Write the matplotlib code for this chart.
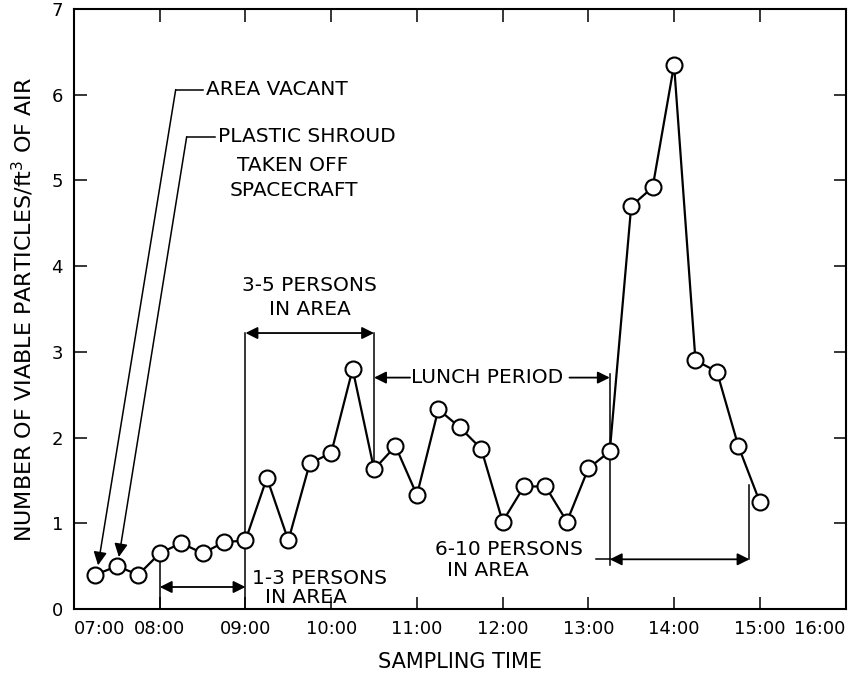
import numpy as np
import matplotlib
matplotlib.use("Agg")
import matplotlib.pyplot as plt

# sampling times (hours) and viable particle counts
hours = [7.25, 7.5, 7.75, 8.0, 8.25, 8.5, 8.75, 9.0, 9.25, 9.5, 9.75, 10.0,
         10.25, 10.5, 10.75, 11.0, 11.25, 11.5, 11.75, 12.0, 12.25, 12.5,
         12.75, 13.0, 13.25, 13.5, 13.75, 14.0, 14.25, 14.5, 14.75, 15.0]
particles = [0.40, 0.50, 0.40, 0.65, 0.77, 0.65, 0.78, 0.80, 1.53, 0.80, 1.70,
             1.82, 2.80, 1.63, 1.90, 1.33, 2.33, 2.12, 1.87, 1.02, 1.43, 1.43,
             1.02, 1.64, 1.84, 4.70, 4.92, 6.35, 2.90, 2.77, 1.90, 1.25]

tick_hours = list(range(7, 17))
tick_labels = ["%02d:00" % h for h in tick_hours]
y_ticks = list(range(0, 8))

plt.rcParams['font.family'] = 'DejaVu Sans'

fig = plt.figure(figsize=(8.61, 6.74), dpi=100)
ax = fig.add_axes([0.086, 0.0964, 0.896, 0.8902])

black = 'black'
fs = 14.5

# --- period brackets and leaders (drawn under the markers) ---
def vline(x, y0, y1):
    ax.plot([x, x], [y0, y1], color=black, lw=1.1, zorder=1)

def dbl_arrow(x0, x1, y):
    ax.annotate('', xy=(x1, y), xytext=(x0, y),
                arrowprops=dict(arrowstyle='<|-|>', color=black, lw=1.3,
                                mutation_scale=18, shrinkA=0, shrinkB=0))

def one_arrow(x0, x1, y):
    ax.annotate('', xy=(x1, y), xytext=(x0, y),
                arrowprops=dict(arrowstyle='-|>', color=black, lw=1.3,
                                mutation_scale=18, shrinkA=0, shrinkB=0))

# 1-3 persons
vline(8.0, 0.0, 0.56)
vline(9.0, 0.0, 3.22)
dbl_arrow(8.0, 9.0, 0.257)
ax.text(9.08, 0.36, "1-3 PERSONS", fontsize=fs, va='center', ha='left')
ax.text(9.23, 0.14, "IN AREA", fontsize=fs, va='center', ha='left')

# 3-5 persons
vline(10.5, 1.72, 3.22)
dbl_arrow(9.0, 10.5, 3.22)
ax.text(9.75, 3.78, "3-5 PERSONS", fontsize=fs, va='center', ha='center')
ax.text(9.75, 3.49, "IN AREA", fontsize=fs, va='center', ha='center')

# lunch period
one_arrow(10.92, 10.5, 2.70)
one_arrow(12.78, 13.25, 2.70)
ax.text(11.82, 2.70, "LUNCH PERIOD", fontsize=fs, va='center', ha='center')
vline(13.25, 0.51, 2.74)

# 6-10 persons
vline(14.88, 0.58, 1.45)
ax.plot([13.09, 13.25], [0.58, 0.58], color=black, lw=1.1, zorder=1)
dbl_arrow(13.25, 14.88, 0.58)
ax.text(11.21, 0.69, "6-10 PERSONS", fontsize=fs, va='center', ha='left')
ax.text(11.35, 0.455, "IN AREA", fontsize=fs, va='center', ha='left')

# area vacant / plastic shroud leaders
ax.plot([8.186, 8.50], [6.06, 6.06], color=black, lw=1.1)
ax.annotate('', xy=(7.28, 0.51), xytext=(8.186, 6.06),
            arrowprops=dict(arrowstyle='-|>', color=black, lw=1.1,
                            mutation_scale=20, shrinkA=0, shrinkB=0))
ax.text(8.535, 6.06, "AREA VACANT", fontsize=fs, va='center', ha='left')

ax.plot([8.314, 8.64], [5.51, 5.51], color=black, lw=1.1)
ax.annotate('', xy=(7.523, 0.607), xytext=(8.314, 5.51),
            arrowprops=dict(arrowstyle='-|>', color=black, lw=1.1,
                            mutation_scale=20, shrinkA=0, shrinkB=0))
ax.text(8.674, 5.51, "PLASTIC SHROUD", fontsize=fs, va='center', ha='left')
ax.text(8.90, 5.17, "TAKEN OFF", fontsize=fs, va='center', ha='left')
ax.text(8.82, 4.88, "SPACECRAFT", fontsize=fs, va='center', ha='left')

# --- data ---
ax.plot(hours, particles, color=black, lw=1.6, marker='o', markersize=11.5,
        markerfacecolor='white', markeredgecolor=black, markeredgewidth=1.5,
        zorder=3)

ax.set_xlim(7, 16)
ax.set_ylim(0, 7)
ax.set_xticks(tick_hours)
ax.set_xticklabels(tick_labels, fontsize=13)
ax.set_yticks(y_ticks)
ax.set_yticklabels([str(v) for v in y_ticks], fontsize=13)
labels = ax.get_xticklabels()
labels[0].set_ha('left')
labels[-1].set_ha('right')

ax.tick_params(direction='in', length=9, width=1.1, top=True, right=True,
               pad=8)
for s in ax.spines.values():
    s.set_linewidth(1.5)

ax.set_xlabel("SAMPLING TIME", fontsize=15, labelpad=10)
ax.set_ylabel("NUMBER OF VIABLE PARTICLES/ft$^3$ OF AIR", fontsize=16,
              labelpad=11)

fig.savefig("out.png", dpi=100)
